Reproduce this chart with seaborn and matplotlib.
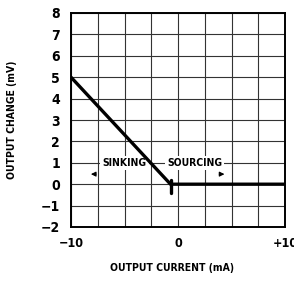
import matplotlib
matplotlib.use("Agg")
import matplotlib.pyplot as plt
import seaborn as sns
import pandas as pd

# data
current_ma = [-10, -0.7, 10]
output_change_mv = [5, 0, 0]
marker_x = [-0.65, -0.65]
marker_y = [-0.4, 0.2]
x_major = [-10, 0, 10]
x_labels = ["\u221210", "0", "+10"]
y_ticks = [-2, -1, 0, 1, 2, 3, 4, 5, 6, 7, 8]
y_labels = ["\u22122", "\u22121", "0", "1", "2", "3", "4", "5", "6", "7", "8"]
x_grid = [-7.5, -5, -2.5, 2.5, 5, 7.5]

sns.set_style("white")
plt.rcParams['font.family'] = ['DejaVu Sans']
plt.rcParams['font.stretch'] = 'condensed'
for k in ['text.color', 'xtick.color', 'ytick.color', 'axes.labelcolor']:
    plt.rcParams[k] = 'black'

fig = plt.figure(figsize=(2.94, 2.81), dpi=100)
ax = fig.add_axes([71 / 294, 1 - 227 / 281, 214 / 294, 214 / 281])

df = pd.DataFrame({"current": current_ma, "change": output_change_mv})
sns.lineplot(data=df, x="current", y="change", color="black", linewidth=2.4, ax=ax, zorder=5)
ax.plot(marker_x, marker_y, color="black", linewidth=2.4, zorder=5)

ax.set_xlim(-10, 10)
ax.set_ylim(-2, 8)
ax.set_xticks(x_major)
ax.set_xticklabels(x_labels, fontsize=9, fontweight="bold", fontstretch="condensed")
ax.set_xticks(x_grid, minor=True)
ax.set_yticks(y_ticks)
ax.set_yticklabels(y_labels, fontsize=10, fontweight="bold", fontstretch="condensed")
ax.tick_params(which="both", length=0)
ax.tick_params(axis="x", pad=7)
ax.tick_params(axis="y", pad=8)
ax.grid(True, which="both", color="#333333", linewidth=0.8)
for s in ax.spines.values():
    s.set_color("black")
    s.set_linewidth(1.4)

ax.set_xlabel("OUTPUT CURRENT (mA)", fontsize=7.5, fontweight="bold", fontstretch="condensed")
ax.set_ylabel("OUTPUT CHANGE (mV)", fontsize=7.5, fontweight="bold", fontstretch="condensed")
ax.xaxis.set_label_coords(0.47, -0.17)
ax.yaxis.set_label_coords(-0.25, 0.5)

ax.text(-5.0, 1, "SINKING", fontsize=7.5, fontweight="bold", ha="center", va="center",
        fontstretch="condensed", bbox=dict(facecolor="white", edgecolor="none", pad=1.5), zorder=4)
ax.text(1.55, 1, "SOURCING", fontsize=7.5, fontweight="bold", ha="center", va="center",
        fontstretch="condensed", bbox=dict(facecolor="white", edgecolor="none", pad=1.5), zorder=4)
ax.annotate("", xy=(-8.4, 0.47), xytext=(-7.4, 0.47),
            arrowprops=dict(arrowstyle="-|>", color="black", lw=0.8, mutation_scale=7))
ax.annotate("", xy=(4.6, 0.47), xytext=(3.6, 0.47),
            arrowprops=dict(arrowstyle="-|>", color="black", lw=0.8, mutation_scale=7))

fig.savefig("out.png", dpi=100)
